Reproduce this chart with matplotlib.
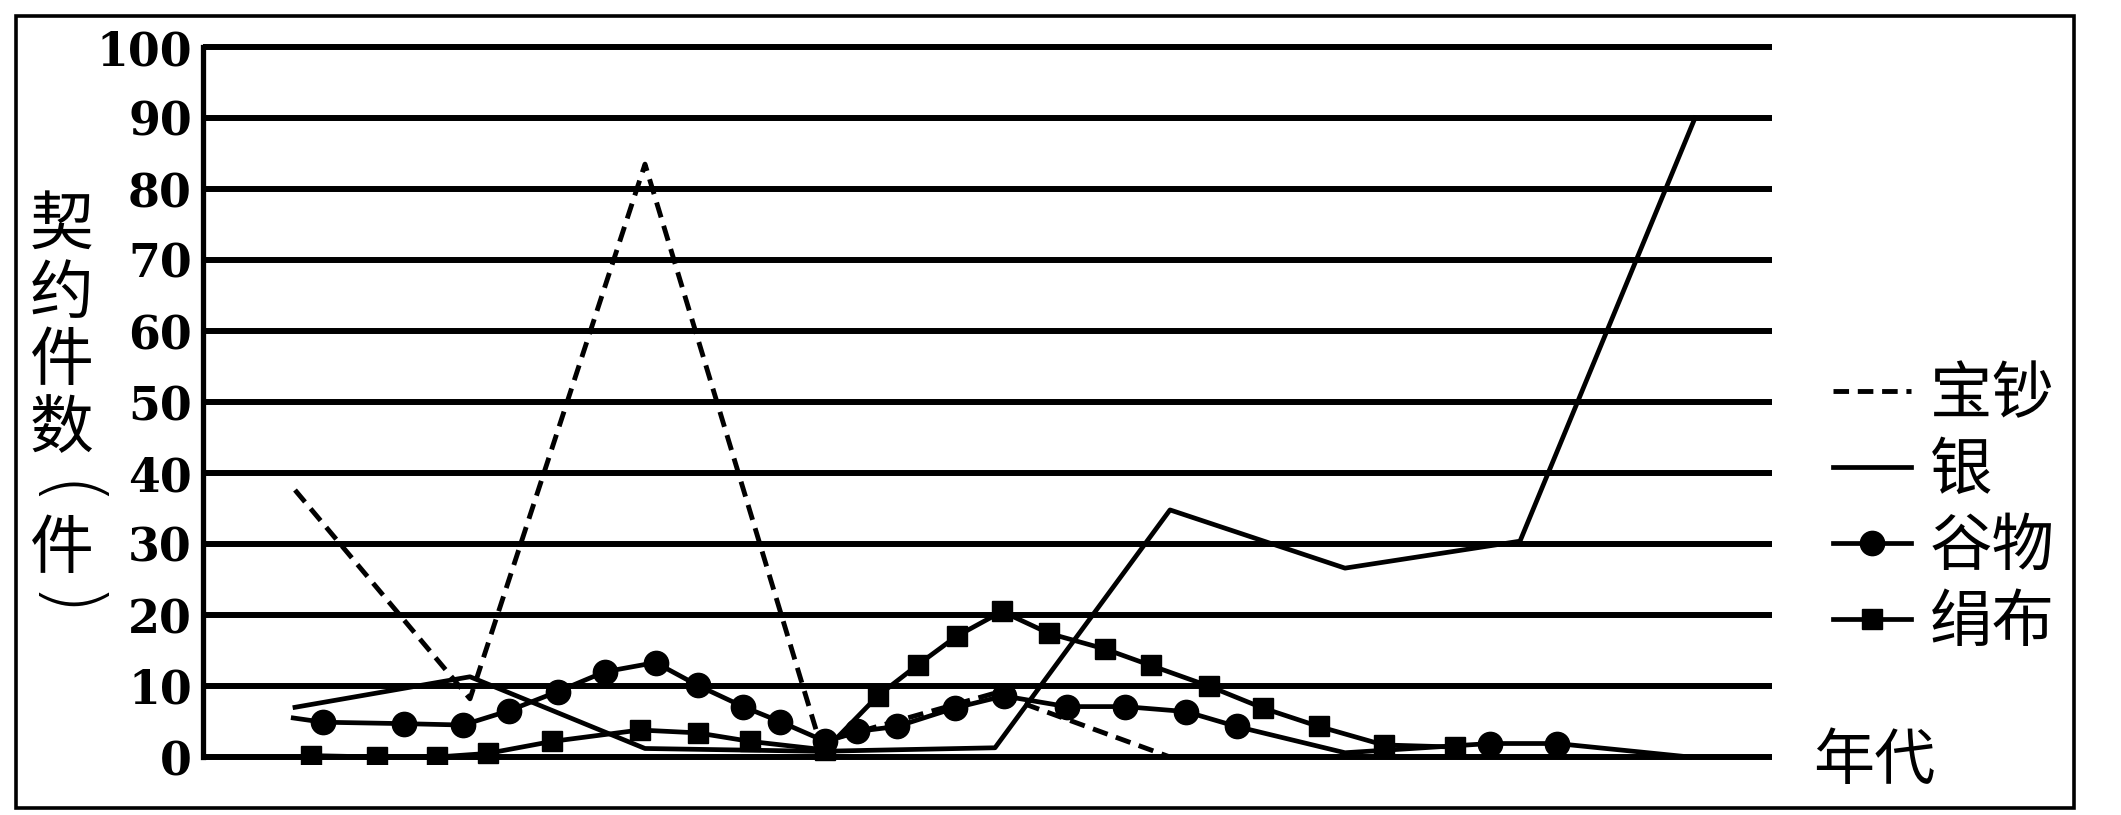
import matplotlib
matplotlib.use("Agg")
import matplotlib.pyplot as plt
from matplotlib.patches import Rectangle

# ---------------- data ----------------
# x = position along the 年代 axis (arbitrary units, no tick labels in the original)
baochao_x = [0, 1, 2, 3, 4, 5]
baochao_y = [37.6, 8.2, 83.5, 2.0, 9.0, 0.0]

yin_x = [0, 1, 2, 3, 4, 5, 6, 7, 8]
yin_y = [7.0, 11.3, 1.2, 0.8, 1.3, 34.8, 26.6, 30.4, 90.0]

guwu_x = [-0.01, 0.16, 0.62, 0.96, 1.22, 1.50, 1.77, 2.06, 2.30, 2.56, 2.77,
          3.03, 3.21, 3.44, 3.77, 4.05, 4.41, 4.74, 5.09, 5.38, 6.00, 6.83,
          7.21, 7.97]
guwu_y = [5.5, 4.9, 4.7, 4.5, 6.5, 9.2, 12.0, 13.3, 10.1, 7.1, 5.0,
          2.2, 3.6, 4.3, 6.9, 8.6, 7.1, 7.1, 6.4, 4.3, 0.6, 1.9,
          1.9, 0.0]
guwu_marked = [1, 2, 3, 4, 5, 6, 7, 8, 9, 10, 11, 12, 13, 14, 15, 16, 17,
               18, 19, 21, 22]

juanbu_x = [0.09, 0.47, 0.81, 1.10, 1.47, 1.97, 2.30, 2.60, 3.03, 3.33, 3.56,
            3.78, 4.04, 4.31, 4.63, 4.89, 5.22, 5.53, 5.85, 6.22, 6.63]
juanbu_y = [0.2, 0.0, 0.0, 0.5, 2.2, 3.8, 3.4, 2.2, 1.0, 8.6, 13.0,
            17.0, 20.5, 17.4, 15.2, 12.9, 10.0, 6.9, 4.3, 1.7, 1.4]

series_labels = ["宝钞", "银", "谷物", "绢布"]
y_ticks = [0, 10, 20, 30, 40, 50, 60, 70, 80, 90, 100]
y_label_chars = ["契", "约", "件", "数", "件"]
y_label_parens = ["(", ")"]
x_label = "年代"

# ---------------- figure ----------------
W, H = 2121, 815
fig = plt.figure(figsize=(W / 100, H / 100), dpi=100)
fig.patch.set_facecolor("white")

cjk = ["Noto Sans CJK SC", "DejaVu Sans"]

# axes: y 0 at px 757, 100 at px 47 ; ylim -1..101
px_per_unit = 7.1
y_bot_px = 757 + px_per_unit
y_top_px = 47 - px_per_unit
ax_left_px, ax_right_px = 203, 1772
ax = fig.add_axes([ax_left_px / W, 1 - y_bot_px / H,
                   (ax_right_px - ax_left_px) / W, (y_bot_px - y_top_px) / H])

# x mapping: px = 295 + 175 * x
ax.set_xlim((ax_left_px - 295) / 175, (ax_right_px - 295) / 175)
ax.set_ylim(-1, 101)

ax.set_axisbelow(True)
ax.set_yticks(y_ticks)
ax.set_xticks([])
ax.yaxis.grid(True, color="black", linewidth=4.3, solid_capstyle="round")
for s in ["top", "right", "bottom"]:
    ax.spines[s].set_visible(False)
ax.spines["left"].set_linewidth(3.8)
ax.spines["left"].set_bounds(0, 100)
ax.tick_params(axis="y", length=0, pad=8)
for lab in ax.get_yticklabels():
    lab.set_fontfamily("DejaVu Serif")
    lab.set_fontweight("bold")
    lab.set_fontsize(33)

lw = 3.4
h1, = ax.plot(baochao_x, baochao_y, color="black", lw=3.5,
              linestyle=(0, (3.2, 1.8)), dash_capstyle="butt",
              label=series_labels[0])
h2, = ax.plot(yin_x, yin_y, color="black", lw=lw, label=series_labels[1])
h3, = ax.plot(guwu_x, guwu_y, color="black", lw=lw, marker="o", ms=17.5,
              markevery=guwu_marked, label=series_labels[2])
h4, = ax.plot(juanbu_x, juanbu_y, color="black", lw=lw, marker="s", ms=14,
              label=series_labels[3])

leg = ax.legend(handles=[h1, h2, h3, h4], loc="center left",
                bbox_to_anchor=(1833 / W, 1 - 509 / H),
                bbox_transform=fig.transFigure, frameon=False,
                prop={"family": cjk, "size": 45}, handlelength=1.25,
                handletextpad=0.3, labelspacing=0.19, borderpad=0,
                borderaxespad=0, numpoints=1)
for t in leg.get_texts():
    t.set_color("black")

# y label: stacked characters
y_centers = [226, 295, 362, 430, 550]
for ch, yc in zip(y_label_chars, y_centers):
    fig.text(62 / W, 1 - yc / H, ch, family=cjk, fontsize=46,
             ha="center", va="center")
# vertical parentheses (rotated so they open downward / upward)
for ch, yc in zip(y_label_parens, [496, 606]):
    fig.text(62 / W, 1 - yc / H, ch, family="DejaVu Sans", fontsize=56,
             fontweight="light", rotation=-90, rotation_mode="anchor",
             ha="center", va="center")

# x label
fig.text(1813 / W, 1 - 762 / H, x_label, family=cjk, fontsize=44,
         ha="left", va="center")

# outer frame
fig.patches.append(Rectangle((16 / W, 1 - 808 / H), (2074 - 16) / W,
                             (808 - 16) / H, transform=fig.transFigure,
                             fill=False, lw=2.6, ec="black"))

fig.savefig("out.png", dpi=100, facecolor="white")
